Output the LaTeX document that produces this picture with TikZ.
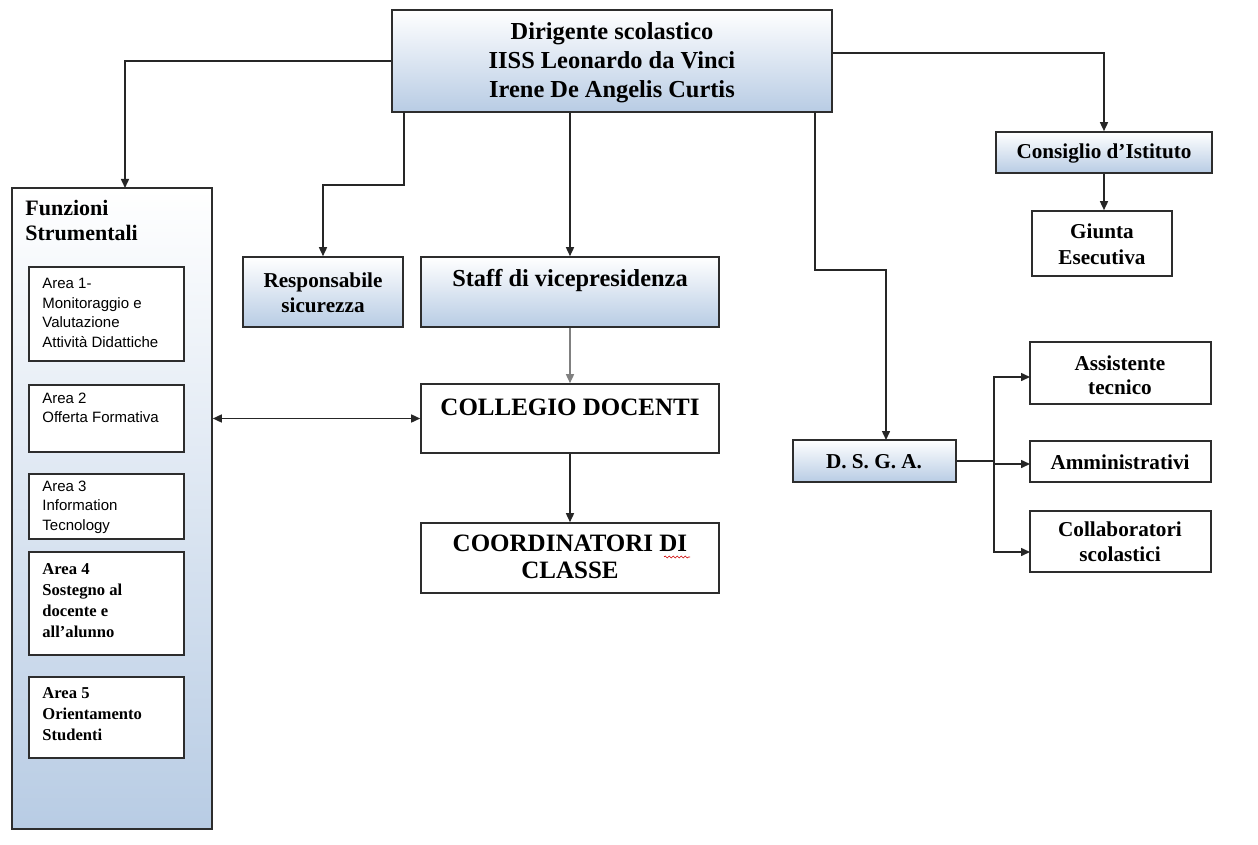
\documentclass[tikz,border=0pt]{standalone}
\usepackage{fontspec}
\setmainfont{Liberation Serif}
\newfontfamily\arialf{Liberation Sans}
\usetikzlibrary{arrows.meta,fit,decorations.pathmorphing}
\definecolor{bluegr}{RGB}{184,204,228}
\definecolor{edgec}{RGB}{45,45,45}
\begin{document}
\begin{tikzpicture}[x=0.5pt,y=-0.5pt,
  gbox/.style={draw=edgec,line width=0.8pt,top color=white,bottom color=bluegr,inner sep=0pt},
  wbox/.style={draw=edgec,line width=0.8pt,fill=white,inner sep=0pt},
  conn/.style={draw=black!85,line width=0.75pt},
  arr/.style={conn,-{Triangle[length=4.5pt,width=4pt]}},
  darr/.style={conn,{Triangle[length=4.5pt,width=4pt]}-{Triangle[length=4.5pt,width=4pt]}},
  bigt/.style={font=\bfseries\fontsize{12.2}{14.5}\selectfont,align=center,inner sep=0pt},
  midt/.style={font=\bfseries\fontsize{10.6}{12.5}\selectfont,align=center,inner sep=0pt},
  sanst/.style={font=\arialf\fontsize{7.5}{9.75}\selectfont,align=left,anchor=west,inner sep=0pt},
  sert/.style={font=\bfseries\fontsize{8.3}{10.5}\selectfont,align=left,anchor=west,inner sep=0pt}]
\useasboundingbox (0,0) rectangle (1258,845);
\fill[white] (0,0) rectangle (1258,845);

% boxes
\node[gbox,fit={(392,10)(832,112)}] (dir) {};
\node[gbox,fit={(12,188)(212,829)}] (fun) {};
\node[wbox,fit={(29,267)(184,361)}] (a1) {};
\node[wbox,fit={(29,385)(184,452)}] (a2) {};
\node[wbox,fit={(29,474)(184,539)}] (a3) {};
\node[wbox,fit={(29,552)(184,655)}] (a4) {};
\node[wbox,fit={(29,677)(184,758)}] (a5) {};
\node[gbox,fit={(243,257)(403,327)}] (resp) {};
\node[gbox,fit={(421,257)(719,327)}] (staff) {};
\node[wbox,fit={(421,384)(719,453)}] (coll) {};
\node[wbox,fit={(421,523)(719,593)}] (coord) {};
\node[gbox,fit={(996,132)(1212,173)}] (cons) {};
\node[wbox,fit={(1032,211)(1172,276)}] (giunta) {};
\node[gbox,fit={(793,440)(956,482)}] (dsga) {};
\node[wbox,fit={(1030,342)(1211,404)}] (ass) {};
\node[wbox,fit={(1030,441)(1211,482)}] (amm) {};
\node[wbox,fit={(1030,511)(1211,572)}] (collab) {};

% texts
\node[bigt] (dirt) at (612,63) {Dirigente scolastico\\IISS Leonardo da Vinci\\Irene De Angelis Curtis};
\node[font=\bfseries\fontsize{11}{12.5}\selectfont,align=left,anchor=west,inner sep=0pt] (funt) at (25,221) {Funzioni\\Strumentali};
\node[sanst] (a1t) at (42,313) {Area 1-\\Monitoraggio e\\Valutazione\\Attività Didattiche};
\node[sanst] (a2t) at (42,408) {Area 2\\Offerta Formativa};
\node[sanst] (a3t) at (42,507) {Area 3\\Information\\Tecnology};
\node[sert] (a4t) at (42,601) {Area 4\\Sostegno al\\docente e\\all’alunno};
\node[sert] (a5t) at (42,714) {Area 5\\Orientamento\\Studenti};
\node[midt] (respt) at (323,293) {Responsabile\\sicurezza};
\node[bigt] (stafft) at (570,281) {Staff di vicepresidenza};
\node[font=\bfseries\fontsize{12.5}{13.5}\selectfont,inner sep=0pt] (collt) at (570,407) {COLLEGIO DOCENTI};
\node[font=\bfseries\fontsize{12.5}{13.5}\selectfont,align=center,inner sep=0pt] (coordt) at (570,557) {COORDINATORI DI\\CLASSE};
\draw[red!80!black,line width=0.3pt,decorate,decoration={snake,amplitude=0.5pt,segment length=2pt}] (664,557) -- (690,557);
\node[midt] (const) at (1104,153) {Consiglio d’Istituto};
\node[midt,font=\bfseries\fontsize{10.6}{13}\selectfont] (giuntat) at (1102,244) {Giunta\\Esecutiva};
\node[midt] (dsgat) at (874,462) {D. S. G. A.};
\node[midt,font=\bfseries\fontsize{10.6}{12}\selectfont] (asst) at (1120,375) {Assistente\\tecnico};
\node[midt] (ammt) at (1120,462) {Amministrativi};
\node[midt,font=\bfseries\fontsize{10.6}{12.5}\selectfont] (collabt) at (1120,542) {Collaboratori\\scolastici};

% connectors
\coordinate (fin) at (125,188);
\draw[arr] (dir.west) -| (fin);
\draw[arr] ([yshift=4pt]dir.east) -| (cons.north);
\coordinate (d1) at (404,112);
\coordinate (d1b) at (404,185);
\draw[arr] (d1) -- (d1b) -| (resp.north);
\draw[arr] (dir.south -| staff.north) -- (staff.north);
\coordinate (d2) at (815,112);
\coordinate (d2b) at (815,270);
\coordinate (dsgain) at (886,440);
\draw[arr] (d2) -- (d2b) -| (dsgain);
\draw[arr,draw=gray] (staff.south) -- (coll.north);
\draw[darr] (coll.west -| fun.east) -- (coll.west);
\draw[arr] (coll.south) -- (coord.north);
\draw[arr] (cons.south) -- (cons.south |- giunta.north);
\coordinate (br) at (994,461);
\draw[conn] (dsga.east) -- (br);
\coordinate (assin) at (1030,377);
\coordinate (ammin) at (1030,464);
\coordinate (colin) at (1030,552);
\draw[arr] (br) |- (assin);
\draw[arr] (br) |- (ammin);
\draw[arr] (br) |- (colin);
\end{tikzpicture}
\end{document}
